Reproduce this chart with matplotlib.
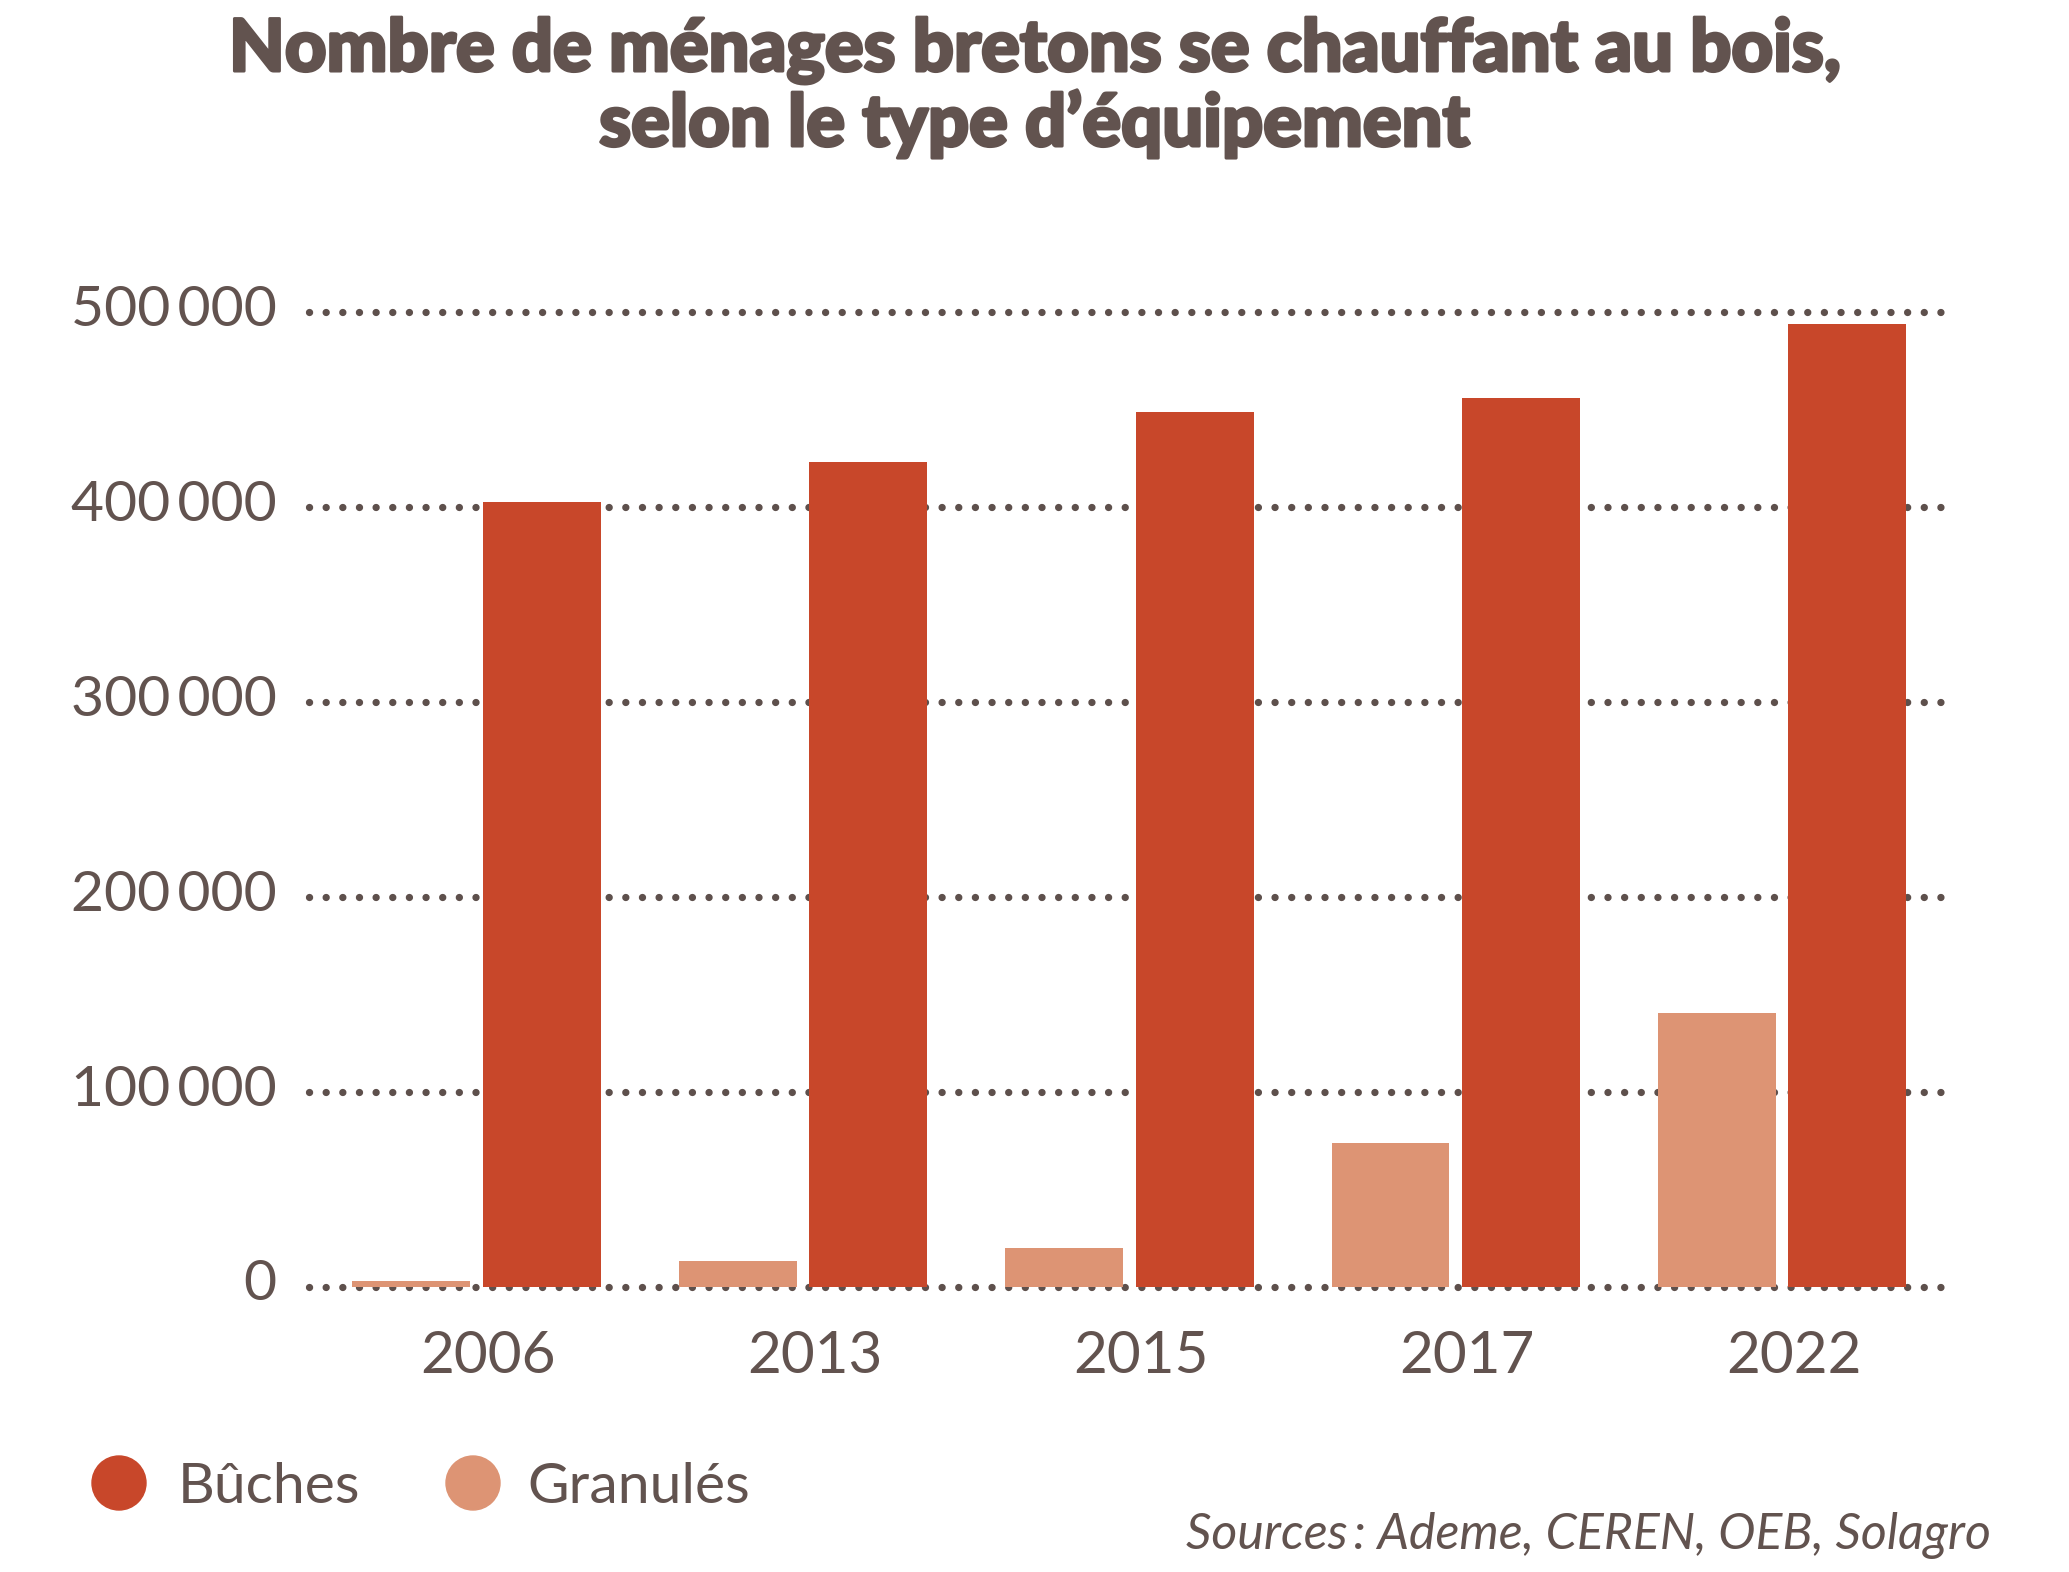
import matplotlib
matplotlib.use("Agg")
import matplotlib.pyplot as plt
import matplotlib.patheffects as pe
from matplotlib.patches import Circle
from matplotlib.transforms import offset_copy
import numpy as np

years = ["2006", "2013", "2015", "2017", "2022"]
buches = [402500, 423000, 449000, 456000, 494000]
granules = [3000, 13000, 20000, 73500, 140500]
yticks = [0, 100000, 200000, 300000, 400000, 500000]
ytick_labels = ["0", "100\u2009000", "200\u2009000", "300\u2009000", "400\u2009000", "500\u2009000"]

C_BUCHES = "#C8472A"
C_GRAN = "#DD9474"
C_TEXT = "#62534F"
C_DOT = "#5E504C"

plt.rcParams['font.family'] = ['Lato', 'DejaVu Sans']

W, H = 2069, 1572
fig = plt.figure(figsize=(W / 100, H / 100), dpi=100)
X0, X1 = 309.3, 1942.7
Y0, Y1 = 1286.7, 312.3
ax = fig.add_axes([X0 / W, 1 - Y0 / H, (X1 - X0) / W, (Y0 - Y1) / H])

XMIN, XMAX = -0.513, 4.492
x = np.arange(len(years))
bw = 0.3615
gap = 0.0386
ax.bar(x - gap / 2 - bw / 2, granules, width=bw, color=C_GRAN, zorder=3)
ax.bar(x + gap / 2 + bw / 2, buches, width=bw, color=C_BUCHES, zorder=3)

ax.set_xlim(XMIN, XMAX)
ax.set_ylim(0, 500000)

ax.hlines(yticks, XMIN, XMAX, colors=C_DOT, linewidth=5.25,
          linestyles=[(0, (0.01, 2.273))], capstyle='round', zorder=2, clip_on=False)

for s in ax.spines.values():
    s.set_visible(False)
ax.set_xticks([])
ax.set_yticks([])

# y labels
ytr = offset_copy(ax.get_yaxis_transform(), fig=fig, x=0, y=-13.7, units='dots')
xr = (276.7 - X0) / (X1 - X0)
for v, lab in zip(yticks, ytick_labels):
    ax.text(xr, v, lab, transform=ytr, ha='right', va='baseline', fontsize=41,
            color=C_TEXT, clip_on=False)

# x labels
xtr = offset_copy(ax.transData, fig=fig, x=0, y=-(1372.7 - Y0), units='dots')
for xi, lab in zip(x, years):
    ax.text(xi + 0.035, 0, lab, transform=xtr, ha='center', va='baseline', fontsize=42,
            color=C_TEXT, clip_on=False)

# title (extra stroke to mimic the heavy display face)
heavy = [pe.withStroke(linewidth=2.2, foreground=C_TEXT)]
fig.text(1034.5 / W, 1 - 71 / H, "Nombre de ménages bretons se chauffant au bois,",
         ha='center', va='baseline', fontsize=52, fontweight='black', color=C_TEXT,
         path_effects=heavy)
fig.text(1034.5 / W, 1 - 146 / H, "selon le type d\u2019équipement",
         ha='center', va='baseline', fontsize=52, fontweight='black', color=C_TEXT,
         path_effects=heavy)

# legend
for cx, label, col, tx in [(119, "Bûches", C_BUCHES, 177.7), (473, "Granulés", C_GRAN, 527)]:
    fig.patches.append(Circle((cx, H - 1483), 27, transform=None, color=col))
    fig.text(tx / W, 1 - 1502.7 / H, label, ha='left', va='baseline', fontsize=41, color=C_TEXT)

fig.text(1991 / W, 1 - 1549 / H, "Sources\u2009: Ademe, CEREN, OEB, Solagro", ha='right', va='baseline',
         fontsize=36, style='italic', color=C_TEXT)

fig.savefig("out.png", dpi=100, facecolor="white")
